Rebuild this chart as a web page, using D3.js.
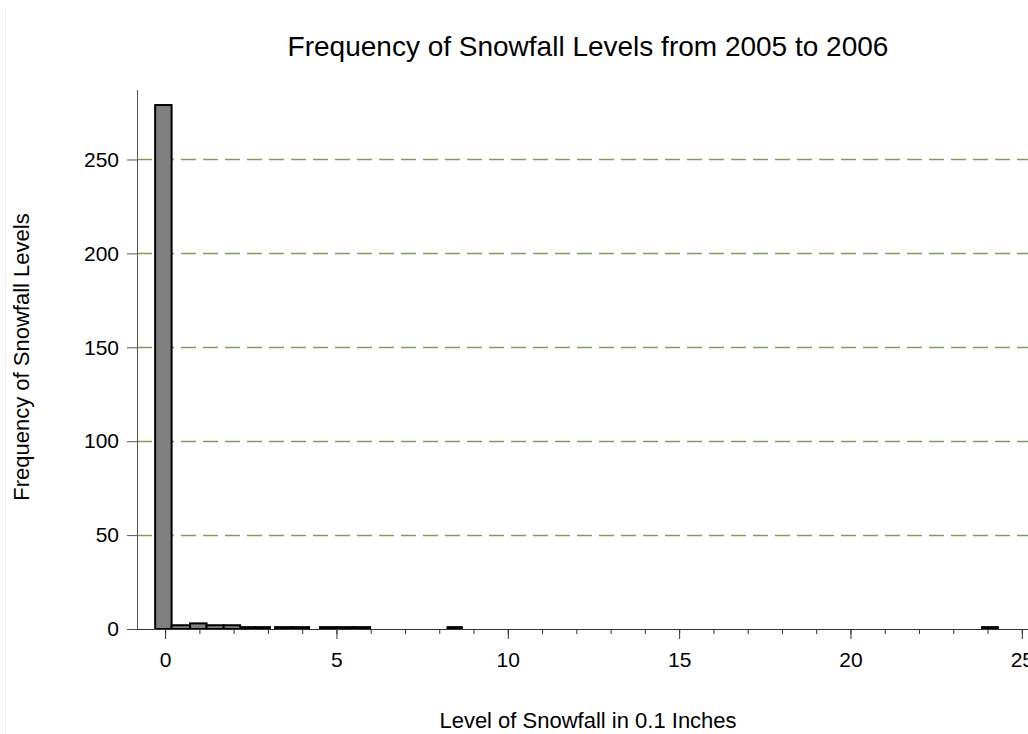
<!DOCTYPE html>
<html>
<head>
<meta charset="utf-8">
<script src="https://cdn.jsdelivr.net/npm/d3@7/dist/d3.min.js"></script>
<style>
  html, body { margin: 0; padding: 0; background: #fff; }
  svg { display: block; font-family: "Liberation Sans", Arial, sans-serif; }
</style>
</head>
<body>
<svg id="chart" width="1028" height="734"></svg>
<script>
// Histogram bins: lower edge, upper edge (0.1 inch units) and day counts
const binLow  = [-0.29, 0.19, 0.73, 1.21, 1.71, 2.22, 2.63, 3.21, 3.71, 4.52, 5.01, 5.49, 8.24, 23.84];
const binHigh = [ 0.19, 0.73, 1.21, 1.71, 2.19, 2.63, 3.06, 3.71, 4.20, 5.01, 5.49, 5.98, 8.66, 24.30];
const counts  = [279, 2, 3, 2, 2, 1, 1, 1, 1, 1, 1, 1, 1, 1];

const yTicks = [0, 50, 100, 150, 200, 250];
const xMajorTicks = [0, 5, 10, 15, 20, 25];
const xMinorTicks = d3.range(0, 26);

const titleText = "Frequency of Snowfall Levels from 2005 to 2006";
const xLabelText = "Level of Snowfall in 0.1 Inches";
const yLabelText = "Frequency of Snowfall Levels";

const bins = counts.map((c, i) => ({ x0: binLow[i], x1: binHigh[i], count: c }));

const svg = d3.select("#chart");

const x = d3.scaleLinear().domain([-0.82, 25.18]).range([137, 1028]);
const y = d3.scaleLinear().domain([0, 287]).range([629, 90]);

// faint frame line at the left edge
svg.append("line")
  .attr("x1", 5.5).attr("x2", 5.5).attr("y1", 8).attr("y2", 734)
  .attr("stroke", "#ececec").attr("stroke-width", 1);

// dashed horizontal grid
svg.append("g")
  .selectAll("line")
  .data(yTicks.filter(d => d > 0))
  .join("line")
  .attr("x1", x.range()[0]).attr("x2", x.range()[1])
  .attr("y1", d => Math.round(y(d)) + 0.5).attr("y2", d => Math.round(y(d)) + 0.5)
  .attr("stroke", "#7f9c62")
  .attr("stroke-width", 1.3)
  .attr("stroke-dasharray", "15,7");

// bars
svg.append("g")
  .selectAll("rect")
  .data(bins)
  .join("rect")
  .attr("x", d => x(d.x0))
  .attr("width", d => x(d.x1) - x(d.x0))
  .attr("y", d => y(d.count))
  .attr("height", d => y(0) - y(d.count))
  .attr("fill", "#808080")
  .attr("stroke", "#000")
  .attr("stroke-width", 2);

// y axis
const yAxis = d3.axisLeft(y).tickValues(yTicks).tickSize(10).tickPadding(8);
const gy = svg.append("g").attr("transform", "translate(137,0)").call(yAxis);
gy.select(".domain").remove();
gy.append("line")
  .attr("x1", 0.5).attr("x2", 0.5).attr("y1", 90).attr("y2", y(0))
  .attr("stroke", "#555");
gy.selectAll(".tick line").attr("stroke", "#555");
gy.selectAll(".tick text")
  .attr("font-size", 21).attr("fill", "#000")
  .attr("font-family", "Liberation Sans, Arial, sans-serif");

// x axis: minor ticks at every unit, labelled major ticks every 5
const gxMinor = svg.append("g").attr("transform", `translate(0,${y(0)})`)
  .call(d3.axisBottom(x).tickValues(xMinorTicks).tickSize(5).tickFormat(""));
gxMinor.select(".domain").remove();
gxMinor.selectAll(".tick line").attr("stroke", "#333");

const gx = svg.append("g").attr("transform", `translate(0,${y(0)})`)
  .call(d3.axisBottom(x).tickValues(xMajorTicks).tickSize(10).tickPadding(13));
gx.select(".domain").remove();
gx.selectAll(".tick line").attr("stroke", "#333");
gx.selectAll(".tick text")
  .attr("font-size", 21).attr("fill", "#000")
  .attr("font-family", "Liberation Sans, Arial, sans-serif");
gx.append("line")
  .attr("x1", x.range()[0]).attr("x2", x.range()[1])
  .attr("y1", 0.5).attr("y2", 0.5)
  .attr("stroke", "#333");

// titles
svg.append("text")
  .attr("x", 588).attr("y", 56)
  .attr("text-anchor", "middle")
  .attr("font-size", 28)
  .text(titleText);

svg.append("text")
  .attr("x", 588).attr("y", 728)
  .attr("text-anchor", "middle")
  .attr("font-size", 22)
  .text(xLabelText);

svg.append("text")
  .attr("transform", "translate(29,357) rotate(-90)")
  .attr("text-anchor", "middle")
  .attr("font-size", 22)
  .text(yLabelText);
</script>
</body>
</html>
